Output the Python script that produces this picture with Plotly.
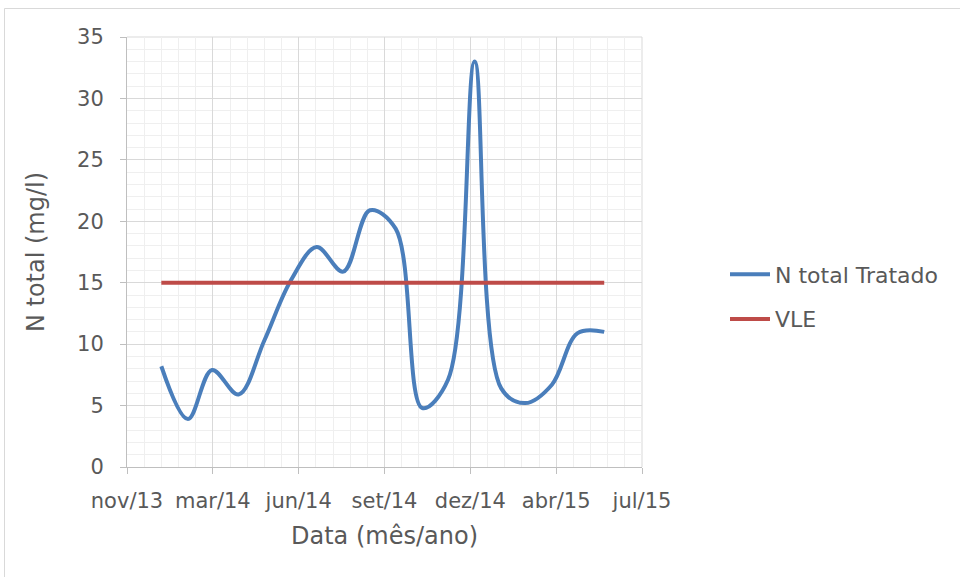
import datetime as dt
import plotly.graph_objects as go

# Monthly samples of treated effluent total nitrogen
sample_dates = [
    "2014-01-01", "2014-02-01", "2014-03-01", "2014-04-01", "2014-05-01", "2014-06-01",
    "2014-07-01", "2014-08-01", "2014-09-01", "2014-10-01", "2014-11-01", "2014-12-01",
    "2015-01-01", "2015-02-01", "2015-03-01", "2015-04-01", "2015-05-01", "2015-06-01",
]
n_total_tratado = [8.2, 3.9, 7.9, 5.9, 10.3, 15.2, 17.9, 15.9, 20.9, 19.4, 4.8, 7.1,
                   33.0, 6.4, 5.2, 6.7, 10.9, 11.0]
vle = [15, 15, 15, 15, 15, 15, 15, 15, 15, 15, 15, 15, 15, 15, 15, 15, 15, 15]

# Date axis: ticks every 100 days starting at the axis minimum
tick_dates = ["2013-11-22", "2014-03-02", "2014-06-10", "2014-09-18",
              "2014-12-27", "2015-04-06", "2015-07-15"]
tick_labels = ["nov/13", "mar/14", "jun/14", "set/14", "dez/14", "abr/15", "jul/15"]

x_start = dt.date.fromisoformat(tick_dates[0])
x_end = dt.date.fromisoformat(tick_dates[-1])
minor_dates = []
d = x_start
while d <= x_end:
    minor_dates.append(d.isoformat())
    d += dt.timedelta(days=20)

FONT = "DejaVu Sans"
TXT = "#595959"
BLUE = "#4A7EBB"
RED = "#BE4B48"

fig = go.Figure()
fig.add_trace(go.Scatter(
    x=sample_dates, y=n_total_tratado, name="N total Tratado", mode="lines",
    line=dict(color=BLUE, width=4, shape="spline", smoothing=1.0),
    legendgroup="a",
))
fig.add_trace(go.Scatter(
    x=sample_dates, y=vle, name="VLE", mode="lines",
    line=dict(color=RED, width=4),
    legendgroup="b",
))

L, R, T, B = 127, 318, 37, 110
W, H = 960, 577
pw, ph = W - L - R, H - T - B


def px_x(px):
    return (px - L) / pw


def px_y(py):
    return (H - B - py) / ph


fig.update_layout(
    width=W, height=H,
    margin=dict(l=L, r=R, t=T, b=B, autoexpand=False),
    paper_bgcolor="white", plot_bgcolor="white",
    font=dict(family=FONT, color=TXT, size=21),
    showlegend=True,
    legend=dict(
        x=px_x(725), y=px_y(297), xanchor="left", yanchor="middle",
        font=dict(family=FONT, size=22, color=TXT),
        tracegroupgap=13, itemwidth=40,
        bgcolor="rgba(0,0,0,0)",
    ),
    xaxis=dict(
        type="date",
        range=[tick_dates[0], tick_dates[-1]],
        tickmode="array", tickvals=tick_dates, ticktext=tick_labels,
        showgrid=True, gridcolor="#D9D9D9", gridwidth=1,
        showline=True, linecolor="#BFBFBF", linewidth=1,
        ticks="outside", ticklen=6, tickcolor="#BFBFBF",
        tickfont=dict(family=FONT, size=21, color=TXT),
        ticklabelstandoff=9,
        minor=dict(tickmode="array", tickvals=minor_dates, showgrid=True,
                   gridcolor="#EFEFEF", gridwidth=1, ticks=""),
        title=dict(text="Data (mês/ano)", font=dict(family=FONT, size=24, color=TXT),
                   standoff=14),
        zeroline=False, automargin=False,
    ),
    yaxis=dict(
        range=[0, 35], tickmode="linear", tick0=0, dtick=5,
        showgrid=True, gridcolor="#D9D9D9", gridwidth=1,
        showline=True, linecolor="#BFBFBF", linewidth=1,
        ticks="outside", ticklen=6, tickcolor="#BFBFBF",
        tickfont=dict(family=FONT, size=21, color=TXT),
        ticklabelstandoff=12,
        minor=dict(dtick=1, showgrid=True, gridcolor="#EFEFEF", gridwidth=1, ticks=""),
        title=dict(text="N total (mg/l)", font=dict(family=FONT, size=24, color=TXT),
                   standoff=25),
        zeroline=False, automargin=False,
    ),
    shapes=[
        # chart area frame
        dict(type="rect", xref="paper", yref="paper",
             x0=px_x(4.5), x1=px_x(975), y0=px_y(595), y1=px_y(8.5),
             line=dict(color="#D9D9D9", width=1), fillcolor="rgba(0,0,0,0)",
             layer="below"),
        # plot area right and top edges
        dict(type="line", xref="paper", yref="paper", x0=1, x1=1, y0=0, y1=1,
             line=dict(color="#D9D9D9", width=1), layer="below"),
        dict(type="line", xref="paper", yref="paper", x0=0, x1=1, y0=1, y1=1,
             line=dict(color="#D9D9D9", width=1), layer="below"),
    ],
)

fig.write_html("out.html")
